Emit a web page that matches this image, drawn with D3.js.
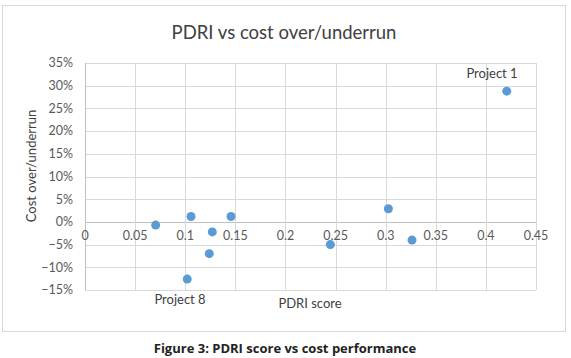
<!DOCTYPE html>
<html>
<head>
<meta charset="utf-8">
<script src="https://cdnjs.cloudflare.com/ajax/libs/d3/7.8.5/d3.min.js"></script>
<style>
  body { margin: 0; background: #fff; }
  svg { display: block; }
</style>
</head>
<body>
<svg id="chart" width="571" height="358"></svg>
<script>
// PDRI score vs cost over/underrun

const pdriScore = [0.0705, 0.1058, 0.1457, 0.127, 0.124, 0.102, 0.4208, 0.3027, 0.3263, 0.2448];
const costOverrun = [-0.007, 0.012, 0.012, -0.022, -0.070, -0.126, 0.288, 0.029, -0.040, -0.050];
const pointLabels = ["", "", "", "", "", "Project 8", "Project 1", "", "", ""];
const xTicks = [0, 0.05, 0.1, 0.15, 0.2, 0.25, 0.3, 0.35, 0.4, 0.45];
const yTicks = [-0.15, -0.10, -0.05, 0, 0.05, 0.10, 0.15, 0.20, 0.25, 0.30, 0.35];

const svg = d3.select('#chart');
const font = 'Lato, "Open Sans", sans-serif';

// chart frame
svg.append('rect')
    .attr('x', 2.5).attr('y', 5.5)
    .attr('width', 563).attr('height', 326)
    .attr('fill', '#fff')
    .attr('stroke', '#d9d9d9');

const xScale = d3.scaleLinear().domain([0, 0.45]).range([85, 536]);
const yScale = d3.scaleLinear().domain([-0.15, 0.35]).range([290, 63]);

// gridlines
svg.append('g')
    .selectAll('line')
    .data(yTicks)
    .enter()
    .append('line')
    .attr('x1', xScale(0)).attr('x2', xScale(0.45))
    .attr('y1', d => Math.round(yScale(d)) + 0.5)
    .attr('y2', d => Math.round(yScale(d)) + 0.5)
    .attr('stroke', d => d === 0 ? '#bfbfbf' : '#d9d9d9');

svg.append('g')
    .selectAll('line')
    .data(xTicks)
    .enter()
    .append('line')
    .attr('y1', yScale(0.35)).attr('y2', yScale(-0.15))
    .attr('x1', d => Math.round(xScale(d)) + 0.5)
    .attr('x2', d => Math.round(xScale(d)) + 0.5)
    .attr('stroke', d => d === 0 ? '#bfbfbf' : '#d9d9d9');

// y tick labels
svg.append('g')
    .selectAll('text')
    .data(yTicks)
    .enter()
    .append('text')
    .attr('x', 73)
    .attr('y', d => yScale(d))
    .attr('dy', '0.35em')
    .attr('text-anchor', 'end')
    .attr('font-family', font)
    .attr('font-size', 12.5)
    .attr('fill', '#595959')
    .text(d => d3.format('.0%')(d));

// x tick labels sit on the zero line
svg.append('g')
    .selectAll('text')
    .data(xTicks)
    .enter()
    .append('text')
    .attr('x', d => xScale(d))
    .attr('y', yScale(0) + 18)
    .attr('text-anchor', 'middle')
    .attr('font-family', font)
    .attr('font-size', 12.5)
    .attr('fill', '#595959')
    .text(d => d3.format('')(d));

// points
const points = pdriScore.map((d, i) => ({ x: d, y: costOverrun[i], label: pointLabels[i] }));
svg.append('g')
    .selectAll('circle')
    .data(points)
    .enter()
    .append('circle')
    .attr('cx', d => xScale(d.x))
    .attr('cy', d => yScale(d.y))
    .attr('r', 4.5)
    .attr('fill', '#5b9bd5');

// project labels
svg.append('text')
    .attr('x', 492).attr('y', 78)
    .attr('text-anchor', 'middle')
    .attr('font-family', font).attr('font-size', 13)
    .attr('fill', '#404040')
    .text(pointLabels[6]);
svg.append('text')
    .attr('x', 180).attr('y', 304)
    .attr('text-anchor', 'middle')
    .attr('font-family', font).attr('font-size', 13)
    .attr('fill', '#404040')
    .text(pointLabels[5]);

// titles
svg.append('text')
    .attr('x', 284).attr('y', 39)
    .attr('text-anchor', 'middle')
    .attr('font-family', font).attr('font-size', 18.5)
    .attr('fill', '#404040')
    .text('PDRI vs cost over/underrun');

svg.append('text')
    .attr('x', 310).attr('y', 308)
    .attr('text-anchor', 'middle')
    .attr('font-family', font).attr('font-size', 13)
    .attr('fill', '#404040')
    .text('PDRI score');

svg.append('text')
    .attr('transform', 'translate(36,166) rotate(-90)')
    .attr('text-anchor', 'middle')
    .attr('font-family', font).attr('font-size', 13)
    .attr('fill', '#404040')
    .text('Cost over/underrun');

// figure caption
svg.append('text')
    .attr('x', 285).attr('y', 353)
    .attr('text-anchor', 'middle')
    .attr('font-family', '"Open Sans", sans-serif')
    .attr('font-weight', 'bold')
    .attr('font-size', 13)
    .attr('fill', '#222')
    .text('Figure 3: PDRI score vs cost performance');
</script>
</body>
</html>
